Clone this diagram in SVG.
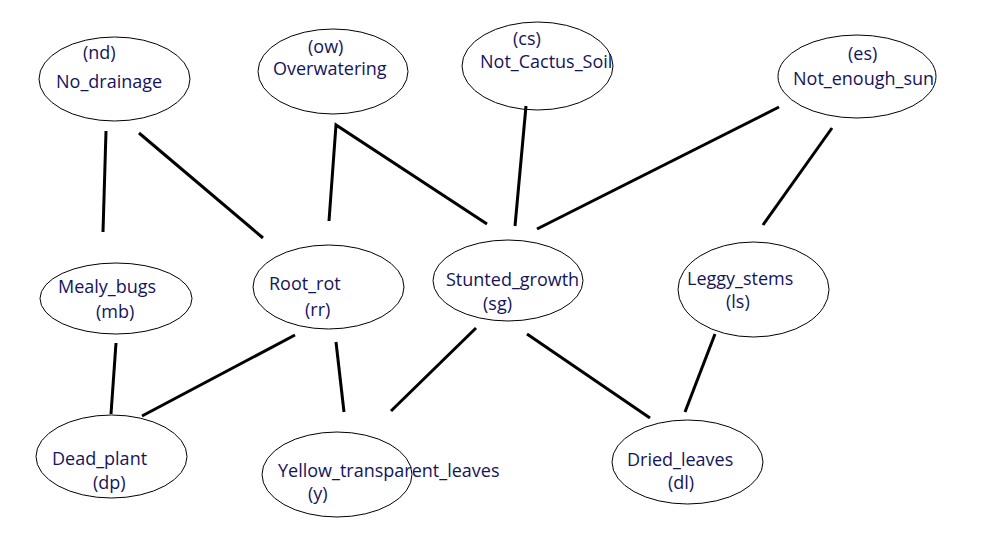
<svg xmlns="http://www.w3.org/2000/svg" width="994" height="556" viewBox="0 0 994 556">
<style>
  .n ellipse { fill: none; stroke: #000; stroke-width: 1; }
  .n text { font-family: "Open Sans", "Noto Sans", sans-serif; font-size: 18px; fill: #14145c; }
  #edges line, #edges polyline { stroke: #000; stroke-width: 3; fill: none; }
</style>
<rect width="994" height="556" fill="#fff"/>
<g id="edges">
  <line x1="106" y1="131" x2="103" y2="232"/>
  <line x1="139" y1="133" x2="263" y2="238"/>
  <polyline points="329,221 336,125 487,224"/>
  <line x1="526" y1="106" x2="515" y2="226"/>
  <line x1="779" y1="107" x2="537" y2="229"/>
  <line x1="832" y1="128" x2="763" y2="225"/>
  <line x1="116" y1="343" x2="111" y2="414"/>
  <line x1="295" y1="335" x2="142" y2="416"/>
  <line x1="336" y1="342" x2="344" y2="412"/>
  <line x1="476" y1="328" x2="391" y2="411"/>
  <line x1="527" y1="334" x2="650" y2="418"/>
  <line x1="715" y1="334" x2="685" y2="412"/>
</g>
<g id="nd" class="n">
  <ellipse cx="114.5" cy="79" rx="75.5" ry="42"/>
  <text x="83" y="59">(nd)</text>
  <text x="56" y="88">No_drainage</text>
</g>
<g id="ow" class="n">
  <ellipse cx="333" cy="71.5" rx="75" ry="42.5"/>
  <text x="308" y="53">(ow)</text>
  <text x="273" y="75">Overwatering</text>
</g>
<g id="cs" class="n">
  <ellipse cx="537.5" cy="66" rx="75.5" ry="44"/>
  <text x="513" y="45">(cs)</text>
  <text x="480" y="68">Not_Cactus_Soil</text>
</g>
<g id="es" class="n">
  <ellipse cx="857" cy="76.5" rx="79" ry="41.5"/>
  <text x="848" y="60">(es)</text>
  <text x="793" y="85">Not_enough_sun</text>
</g>
<g id="mb" class="n">
  <ellipse cx="116" cy="298.5" rx="76" ry="35.5"/>
  <text x="58" y="293">Mealy_bugs</text>
  <text x="96" y="318">(mb)</text>
</g>
<g id="rr" class="n">
  <ellipse cx="328.5" cy="287" rx="75.5" ry="42"/>
  <text x="269" y="290">Root_rot</text>
  <text x="305" y="316">(rr)</text>
</g>
<g id="sg" class="n">
  <ellipse cx="508" cy="280.5" rx="75" ry="40.5"/>
  <text x="446" y="286">Stunted_growth</text>
  <text x="483" y="310">(sg)</text>
</g>
<g id="ls" class="n">
  <ellipse cx="753.5" cy="289.5" rx="75.5" ry="47.5"/>
  <text x="687" y="285">Leggy_stems</text>
  <text x="726" y="308">(ls)</text>
</g>
<g id="dp" class="n">
  <ellipse cx="111.5" cy="456.5" rx="75.5" ry="41.5"/>
  <text x="52" y="465">Dead_plant</text>
  <text x="93" y="489">(dp)</text>
</g>
<g id="y" class="n">
  <ellipse cx="337" cy="474.5" rx="75" ry="42.5"/>
  <text x="278" y="477">Yellow_transparent_leaves</text>
  <text x="308" y="500">(y)</text>
</g>
<g id="dl" class="n">
  <ellipse cx="687.5" cy="462" rx="75.5" ry="42"/>
  <text x="627" y="466">Dried_leaves</text>
  <text x="668" y="489">(dl)</text>
</g>
</svg>
